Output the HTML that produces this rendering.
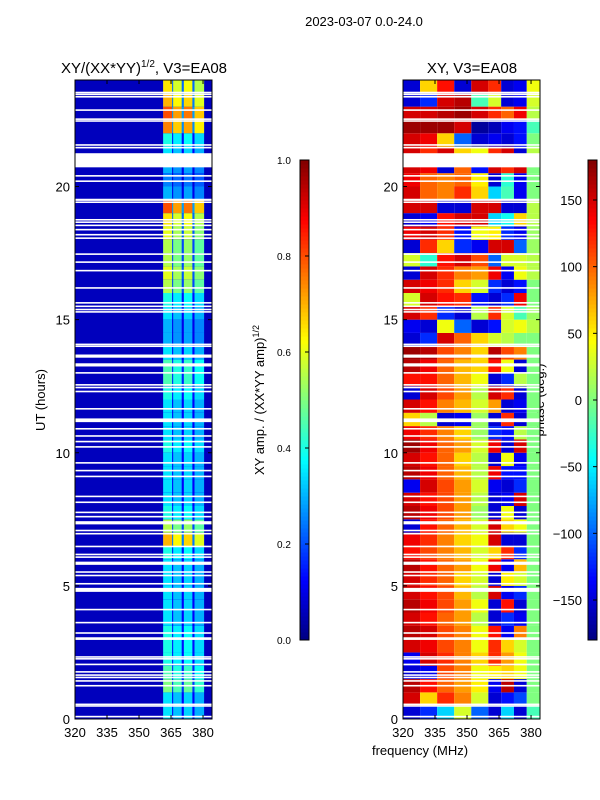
<!DOCTYPE html>
<html><head><meta charset="utf-8"><style>
html,body{margin:0;padding:0;background:#fff;}
svg{display:block;font-family:"Liberation Sans",sans-serif;}
</style></head><body>
<svg id="fig" width="600" height="800" viewBox="0 0 600 800">
<text x="364" y="26" font-size="13" text-anchor="middle">2023-03-07 0.0-24.0</text>
<text x="144" y="73" font-size="15" text-anchor="middle">XY/(XX*YY)<tspan font-size="10" dy="-6">1/2</tspan><tspan dy="6">, V3=EA08</tspan></text>
<text x="472" y="73" font-size="15" text-anchor="middle">XY, V3=EA08</text>
<text x="420" y="755" font-size="13" text-anchor="middle">frequency (MHz)</text>
<text transform="translate(45,400) rotate(-90)" font-size="13" text-anchor="middle">UT (hours)</text>
<text transform="translate(264,400) rotate(-90)" font-size="13" text-anchor="middle">XY amp. / (XX*YY amp)<tspan font-size="9" dy="-5">1/2</tspan></text>
<text transform="translate(544,400) rotate(-90)" font-size="13" text-anchor="middle">phase (deg.)</text>
<g id="left"></g>
<g id="right"></g>
<g id="axes"></g>
</svg>
<script>
// ---- data ----
const hourBins = [0,0.5,1,1.5,2,2.5,3,3.5,4,4.5,5,5.5,6,6.5,7,7.5,8,8.5,9,9.5,10,10.5,11,11.5,12,12.5,13,13.5,14,14.5,15,15.5,16,16.5,17,17.5,18,18.5,19,19.5,20,20.5,21,21.5,22,22.5,23,23.5];
const stripeAmp = [.35,.35,.5,.45,.4,.4,.4,.35,.35,.35,.35,.35,.4,.7,.55,.4,.35,.35,.35,.35,.4,.35,.35,.35,.4,.45,.45,.35,.3,.3,.35,.4,.55,.6,.55,.55,.6,.65,.8,.3,.25,.3,.35,.4,.75,.8,.7,.65];
const stripeStart = [361.3,366,371,376];
const stripeEnd = [365.5,370,375,380.5];
const stripeFactor = [1,0.9,0.95,0.85];
const backgroundAmp = 0.06;
const phaseFreqs = [320,328,336,344,352,360,366,372,378,384];
const phase = [
[-150,-120,-60,30,-100,-150,-60,-150,-20],
[150,60,120,90,30,-150,-130,-110,0],
[160,130,100,80,50,-140,160,-150,0],
[-150,-140,110,90,40,50,60,40,0],
[-140,150,120,90,60,120,80,40,0],
[150,140,110,90,40,120,60,30,0],
[160,150,110,90,40,130,-140,90,0],
[150,130,100,80,20,-150,-120,-140,0],
[160,140,110,80,40,-150,130,-150,0],
[150,130,110,70,20,150,-140,-120,0],
[150,120,100,60,30,-150,50,30,0],
[160,130,100,80,40,140,-140,70,0],
[130,110,90,70,30,60,120,-120,0],
[140,120,90,60,40,150,-150,-150,0],
[-150,130,100,70,30,150,60,40,0],
[160,140,110,80,10,-150,40,-150,0],
[150,130,110,80,20,-150,-140,150,0],
[-140,150,110,80,30,-140,-150,-120,0],
[160,140,100,70,20,140,-130,-130,0],
[150,130,100,60,20,-150,40,-140,0],
[170,140,100,80,30,140,-150,150,0],
[140,120,90,60,10,-120,-130,20,0],
[60,20,-150,-140,10,-150,120,-150,0],
[150,130,90,70,30,80,-150,-140,0],
[-150,150,110,80,20,150,120,-150,0],
[130,130,100,70,40,-150,-120,20,0],
[160,140,100,70,60,130,40,-150,0],
[170,160,110,90,60,160,110,90,0],
[-150,-120,150,100,60,30,20,0,0],
[-140,-150,40,-100,-150,-130,30,40,20],
[150,120,-120,-150,20,120,30,-20,10],
[30,150,130,120,-130,-150,-120,140,0],
[150,140,120,60,30,-120,-150,-130,0],
[-150,150,120,90,80,140,-140,40,20],
[30,-30,130,150,110,-100,30,30,20],
[-150,120,60,-120,-140,150,150,-100,10],
[140,150,120,-130,40,50,-120,-140,10],
[-150,-140,130,150,150,-60,-40,60,20],
[150,150,-150,-150,150,150,-150,-150,20],
[150,100,90,120,60,-60,-20,-140,0],
[140,100,90,100,50,-150,-30,-140,0],
[150,140,-150,100,-130,150,120,150,0],
[150,120,150,60,40,120,150,-150,20],
[150,140,60,-100,-150,-140,-150,-130,0],
[170,170,170,150,-170,-160,-140,-130,-20],
[150,150,160,170,150,120,100,140,20],
[-150,-120,150,160,-20,30,-150,-140,30],
[-150,60,130,-150,150,120,-150,-140,40]
];
const gapUT = [23.53,23.46,23.37,22.87,22.53,22.46,21.56,21.46,20.985,20.4,20.2,19.5,19.41,18.75,18.66,18.54,18.38,18.19,18.06,17.46,17.16,16.84,16.19,15.63,15.5,15.38,15.29,14.07,14.0,13.63,13.3,13.0,12.55,12.45,12.3,11.65,11.22,10.9,10.63,10.42,10.22,9.62,9.33,9.11,8.36,8.14,7.76,7.6,7.37,7.08,6.96,6.48,6.18,6.08,5.85,5.52,5.39,5.08,4.85,4.11,3.62,3.23,3.02,2.33,2.26,2.05,1.77,1.65,1.56,1.43,1.25,0.55,0.49,0.09];
const gapLen = [.06,.06,.06,.06,.06,.06,.06,.06,.53,.06,.06,.08,.06,.06,.06,.06,.06,.06,.06,.06,.06,.06,.06,.06,.06,.06,.06,.06,.06,.12,.12,.06,.06,.06,.06,.06,.14,.06,.06,.06,.06,.06,.06,.06,.06,.06,.06,.06,.12,.06,.06,.06,.06,.06,.12,.06,.06,.06,.15,.06,.06,.06,.1,.06,.06,.06,.06,.06,.06,.06,.06,.06,.06,.06];
const xTicks = [320,335,350,365,380];
const yTicks = [0,5,10,15,20];
const ampTicks = [0,0.2,0.4,0.6,0.8,1.0];
const phaseTicks = [-150,-100,-50,0,50,100,150];

// ---- scales ----
const NS="http://www.w3.org/2000/svg";
const Y0=719, Y1=80, FMIN=320, FMAX=384.2;
const yScale = ut => Y0 - (ut/24)*(Y0-Y1);
const xScaleL = f => 75 + (f-FMIN)/(FMAX-FMIN)*137;
const xScaleR = f => 403 + (f-FMIN)/(FMAX-FMIN)*137;
function jet(v){v=Math.max(0,Math.min(1,v));
 const r=Math.max(0,Math.min(1,1.5-Math.abs(4*v-3)));
 const g=Math.max(0,Math.min(1,1.5-Math.abs(4*v-2)));
 const b=Math.max(0,Math.min(1,1.5-Math.abs(4*v-1)));
 return `rgb(${Math.round(r*255)},${Math.round(g*255)},${Math.round(b*255)})`;}
function rect(parent,x,y,w,h,fill,name){const r=document.createElementNS(NS,'rect');
 r.setAttribute('x',x);r.setAttribute('y',y);r.setAttribute('width',w);r.setAttribute('height',h);r.setAttribute('fill',fill);
 
 
 parent.appendChild(r);return r;}
function text(parent,x,y,s,anchor,name){const t=document.createElementNS(NS,'text');
 t.setAttribute('x',x);t.setAttribute('y',y);t.setAttribute('font-size','13');t.setAttribute('text-anchor',anchor);t.textContent=s;
 
 
 parent.appendChild(t);}
function line(parent,x1,y1,x2,y2,name){const l=document.createElementNS(NS,'line');
 l.setAttribute('x1',x1);l.setAttribute('y1',y1);l.setAttribute('x2',x2);l.setAttribute('y2',y2);l.setAttribute('stroke','#000');l.setAttribute('stroke-width','1');
 
 
 parent.appendChild(l);}

const L=document.getElementById('left'), R=document.getElementById('right'), A=document.getElementById('axes');
// left background
rect(L,xScaleL(FMIN),yScale(24),xScaleL(FMAX)-xScaleL(FMIN),yScale(0)-yScale(24),jet(backgroundAmp),'amp-background');
hourBins.forEach((h,i)=>{
  const y=yScale(h+0.5), hh=yScale(h)-yScale(h+0.5);
  // inter-stripe band
  rect(L,xScaleL(stripeStart[0]),y,xScaleL(stripeEnd[3])-xScaleL(stripeStart[0]),hh,jet(stripeAmp[i]*0.35),'amp-band');
  stripeStart.forEach((s,k)=>{
    rect(L,xScaleL(s),y,xScaleL(stripeEnd[k])-xScaleL(s),hh,jet(stripeAmp[i]*stripeFactor[k]),'amp-cell');
  });
  phase[i].forEach((p,k)=>{
    rect(R,xScaleR(phaseFreqs[k]),y,xScaleR(phaseFreqs[k+1])-xScaleR(phaseFreqs[k]),hh,jet((p+180)/360),'phase-cell');
  });
});
gapUT.forEach((g,i)=>{
  const y=yScale(g+gapLen[i]/2), h=yScale(g-gapLen[i]/2)-y;
  rect(L,75,y,137,h,'#fff','amp-flag-gap');
  rect(R,403,y,137,h,'#fff','phase-flag-gap');
});
// frames
[[75,'left'],[403,'right']].forEach(([x0,nm])=>{
  const f=rect(A,x0,Y1,137,Y0-Y1,'none',nm+'-frame');f.setAttribute('stroke','#000');
  const xs = nm==='left'?xScaleL:xScaleR;
  xTicks.forEach(t=>{const x=xs(t);line(A,x,Y0,x,Y0-4,'x-tick');line(A,x,Y1,x,Y1+4,'x-tick');text(A,x,737,String(t),'middle','x-tick-label');});
  yTicks.forEach(t=>{const y=yScale(t);line(A,x0,y,x0+4,y,'y-tick');line(A,x0+137,y,x0+133,y,'y-tick');text(A,x0-5,y+5,String(t),'end','y-tick-label');});
});
// colorbars
const CB0=640, CB1=160;
for(let i=0;i<120;i++){const v0=i/120;
  rect(A,300,CB0-(i+1)*4,9,4.5,jet(v0+1/240),'amp-colorbar-segment');
  rect(A,588,CB0-(i+1)*4,9,4.5,jet(v0+1/240),'phase-colorbar-segment');}
const cf1=rect(A,300,CB1,9,CB0-CB1,'none','amp-colorbar');cf1.setAttribute('stroke','#000');
const cf2=rect(A,588,CB1,9,CB0-CB1,'none','phase-colorbar');cf2.setAttribute('stroke','#000');
ampTicks.forEach(t=>{const y=CB0-t*(CB0-CB1);line(A,305,y,309,y,'amp-colorbar-tick');text(A,278+0,y+4,'','start','x');});
ampTicks.forEach(t=>{const y=CB0-t*(CB0-CB1);const tt=document.createElementNS(NS,'text');
 tt.setAttribute('x',277);tt.setAttribute('y',y+4);tt.setAttribute('font-size','10');tt.textContent=t.toFixed(1);
 
 
 A.appendChild(tt);});
phaseTicks.forEach(t=>{const y=400-t*(CB0-CB1)/360;line(A,593,y,597,y,'phase-colorbar-tick');text(A,582,y+5,String(t).replace('-','\u2212'),'end','phase-colorbar-label');});
</script>
</body></html>
